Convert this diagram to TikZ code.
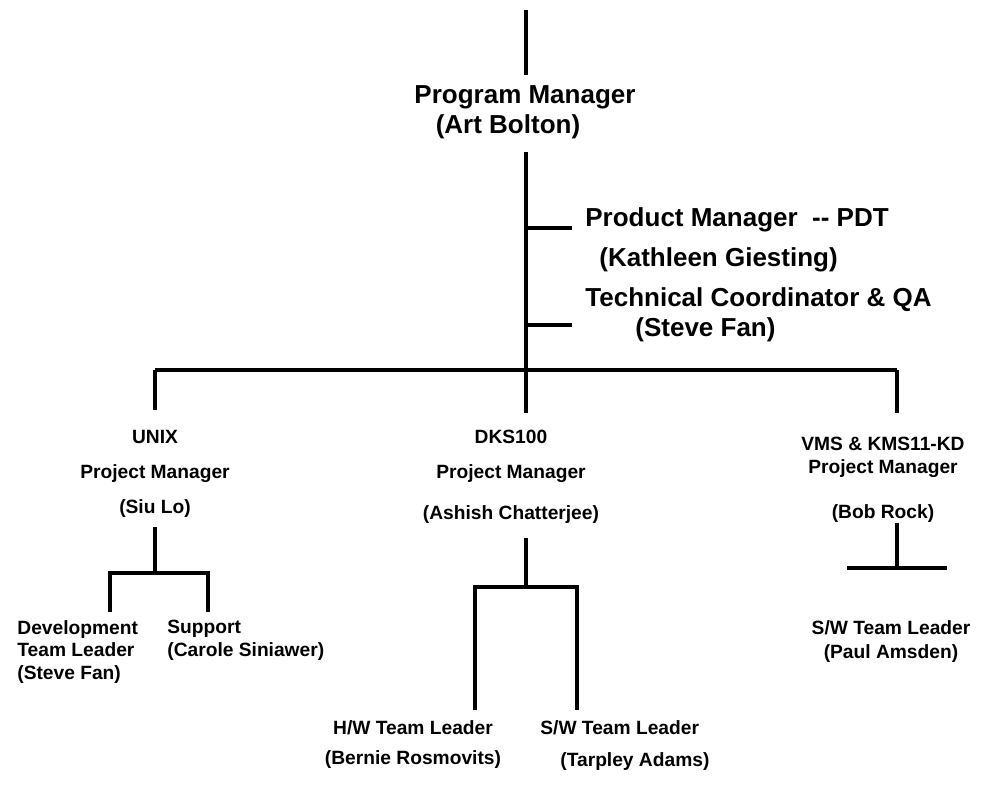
\documentclass[tikz,border=0pt]{standalone}
\usepackage{fontspec}
\setmainfont{Liberation Sans}
\usetikzlibrary{positioning}
\tikzset{
ln/.style={line width=2pt},
big/.style={font=\bfseries\fontsize{13}{15}\selectfont,inner sep=0pt},
pmbox/.style={font=\bfseries\fontsize{9.6}{17.5}\selectfont,inner sep=0pt,align=center,anchor=north},
tl/.style={font=\bfseries\fontsize{9.6}{11.3}\selectfont,inner sep=0pt,align=left,anchor=north west},
}
\begin{document}
\begin{tikzpicture}[x=0.5pt,y=-0.5pt]
	\useasboundingbox (0,0) rectangle (981,806);

	% program manager and staff
	\node[big] (pm) at (525,97) {Program Manager};
	\node[big] (pmn) at (508,127) {(Art Bolton)};
	\node[big,anchor=west] (prod) at (585,220) {Product Manager\ \ -{}- PDT};
	\node[big,anchor=west] (prodn) at (599,260) {(Kathleen Giesting)};
	\node[big,anchor=west] (tech) at (585,300) {Technical Coordinator \& QA};
	\node[big,anchor=west] (techn) at (635,330) {(Steve Fan)};

	\coordinate (top) at (526,10);
	\coordinate (top1) at (526,75);
	\coordinate (sp0) at (526,152);
	\coordinate (sp1) at (526,228);
	\coordinate (sp2) at (526,325);
	\coordinate (st1) at (572,228);
	\coordinate (st2) at (572,325);
	\coordinate (bar) at (526,370);
	\coordinate (barl) at (155,370);
	\coordinate (barr) at (897,370);

	% project managers
	\node[pmbox] (unix) at (155,430) {UNIX\\Project Manager\\(Siu Lo)};
	\node[pmbox] (dks) at (511,430) {DKS100\\Project Manager\\[3pt](Ashish Chatterjee)};
	\node[pmbox] (vms) at (883,437) {VMS \& KMS11-KD\\[-6pt]Project Manager\\[5pt](Bob Rock)};

	\coordinate (ux0) at (155,410);
	\coordinate (dk0) at (526,413);
	\coordinate (vm0) at (897,413);

	% team leaders
	\node[tl] (dev) at (17,620) {Development\\Team Leader\\(Steve Fan)};
	\node[tl] (sup) at (167,620) {Support\\(Carole Siniawer)};
	\node[tl,align=center,anchor=north] (hw) at (413,720) {H/W Team Leader\\[4pt](Bernie Rosmovits)};
	\node[tl,anchor=north west] (sw) at (540,720) {S/W Team Leader};
	\node[tl,anchor=north west] (swn) at (560,752) {(Tarpley Adams)};
	\node[tl,align=center,anchor=north] (swv) at (891,620) {S/W Team Leader\\[1pt](Paul Amsden)};

	\coordinate (ux1) at (155,527);
	\coordinate (ux2) at (155,573);
	\coordinate (dev0) at (110,612);
	\coordinate (sup0) at (208,612);
	\coordinate (dk1) at (526,538);
	\coordinate (dk2) at (526,587);
	\coordinate (hw0) at (475,710);
	\coordinate (sw0) at (577,710);
	\coordinate (vm1) at (897,523);
	\coordinate (vm2) at (897,568);
	\coordinate (vml) at (847,568);
	\coordinate (vmr) at (947,568);

	\draw[ln] (top) -- (top1);
	\draw[ln] (sp0) -- (bar);
	\draw[ln] (sp1) -- (st1);
	\draw[ln] (sp2) -- (st2);
	\draw[ln] (barl) -- (barr);
	\draw[ln] (barl) -- (ux0);
	\draw[ln] (bar) -- (dk0);
	\draw[ln] (barr) -- (vm0);
	\draw[ln] (ux1) -- (ux2);
	\draw[ln] (dev0) |- (ux2) -| (sup0);
	\draw[ln] (dk1) -- (dk2);
	\draw[ln] (hw0) |- (dk2) -| (sw0);
	\draw[ln] (vm1) -- (vm2);
	\draw[ln] (vml) -- (vmr);
\end{tikzpicture}
\end{document}
